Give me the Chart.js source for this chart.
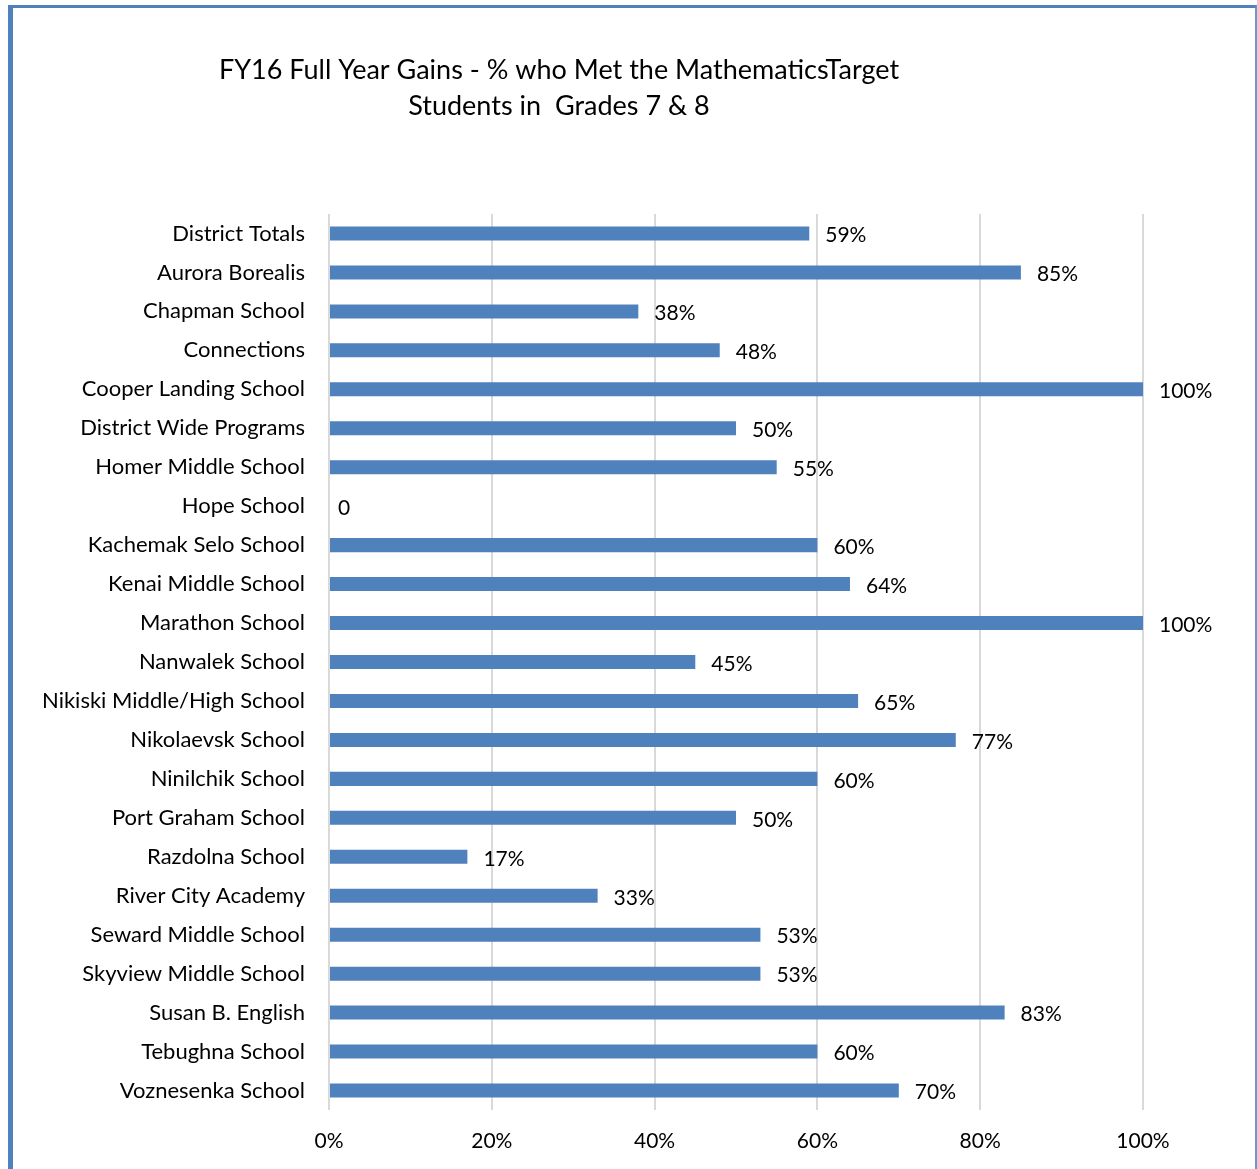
<!DOCTYPE html>
<html>
<head>
<meta charset="utf-8">
<script src="https://cdn.jsdelivr.net/npm/chart.js@4"></script>
<style>
  html, body { margin: 0; padding: 0; background: #fff; }
  #frame {
    position: absolute; left: 8px; top: 5px; width: 1242px; height: 1180px;
    border-left: 5px solid #4f81bd; border-top: 3px solid #4f81bd; border-right: 2px solid #6f96cc;
  }
  #wrap { position: absolute; left: 0; top: 0; width: 1257px; height: 1169px; }
</style>
</head>
<body>
<div id="frame"></div>
<div id="wrap"><canvas id="chart" width="1257" height="1169"></canvas></div>
<script>
var schools = ['District Totals', 'Aurora Borealis', 'Chapman School', 'Connections', 'Cooper Landing School',
    'District Wide Programs', 'Homer Middle School', 'Hope School', 'Kachemak Selo School', 'Kenai Middle School',
    'Marathon School', 'Nanwalek School', 'Nikiski Middle/High School', 'Nikolaevsk School', 'Ninilchik School',
    'Port Graham School', 'Razdolna School', 'River City Academy', 'Seward Middle School', 'Skyview Middle School',
    'Susan B. English', 'Tebughna School', 'Voznesenka School'];
var metTarget = [59, 85, 38, 48, 100, 50, 55, 0, 60, 64, 100, 45, 65, 77, 60, 50, 17, 33, 53, 53, 83, 60, 70];
var xTicks = [0, 20, 40, 60, 80, 100];
var titleLines = ['FY16 Full Year Gains - % who Met the MathematicsTarget', 'Students in  Grades 7 & 8'];

var fontFamily = 'Lato, "Open Sans", sans-serif';

var titlePlugin = {
    id: 'titleText',
    afterDraw: function(chart) {
        var c = chart.ctx;
        c.save();
        c.fillStyle = '#000';
        c.font = '27px ' + fontFamily;
        c.textAlign = 'center';
        c.textBaseline = 'middle';
        c.fillText(titleLines[0], 559, 70);
        c.fillText(titleLines[1], 559, 106);
        c.restore();
    }
};

var valueLabels = {
    id: 'valueLabels',
    afterDatasetsDraw: function(chart) {
        var c = chart.ctx;
        var meta = chart.getDatasetMeta(0);
        c.save();
        c.fillStyle = '#000';
        c.font = '21px ' + fontFamily;
        c.textAlign = 'left';
        c.textBaseline = 'middle';
        meta.data.forEach(function(bar, i) {
            var v = metTarget[i];
            if (v === 0) {
                c.fillText('0', bar.x + 9, bar.y + 2);
            } else {
                c.fillText(v + '%', bar.x + 16, bar.y + 2);
            }
        });
        c.restore();
    }
};

var ctx = document.getElementById('chart').getContext('2d');
var chart = new Chart(ctx, {
    type: 'bar',
    data: {
        labels: schools,
        datasets: [{
            data: metTarget,
            backgroundColor: '#4f81bd',
            barPercentage: 0.9,
            categoryPercentage: 0.4
        }]
    },
    options: {
        indexAxis: 'y',
        responsive: false,
        animation: false,
        layout: { padding: { top: 214, right: 114, bottom: 0, left: 0 } },
        plugins: {
            legend: { display: false },
            title: { display: false },
            tooltip: { enabled: false }
        },
        scales: {
            x: {
                min: 0,
                max: 100,
                afterBuildTicks: function(scale) {
                    scale.ticks = xTicks.map(function(v) { return { value: v }; });
                },
                afterFit: function(scale) { scale.height = 59; },
                grid: { color: '#d9d9d9', lineWidth: 2, drawTicks: false },
                border: { display: false },
                ticks: {
                    color: '#000',
                    font: { family: fontFamily, size: 21 },
                    padding: 19,
                    callback: function(v) { return v + '%'; }
                }
            },
            y: {
                afterFit: function(scale) { scale.width = 329; },
                grid: { display: false },
                border: { display: false },
                ticks: {
                    color: '#000',
                    font: { family: fontFamily, size: 22 },
                    padding: 16,
                    autoSkip: false
                }
            }
        }
    },
    plugins: [titlePlugin, valueLabels]
});
</script>
</body>
</html>
